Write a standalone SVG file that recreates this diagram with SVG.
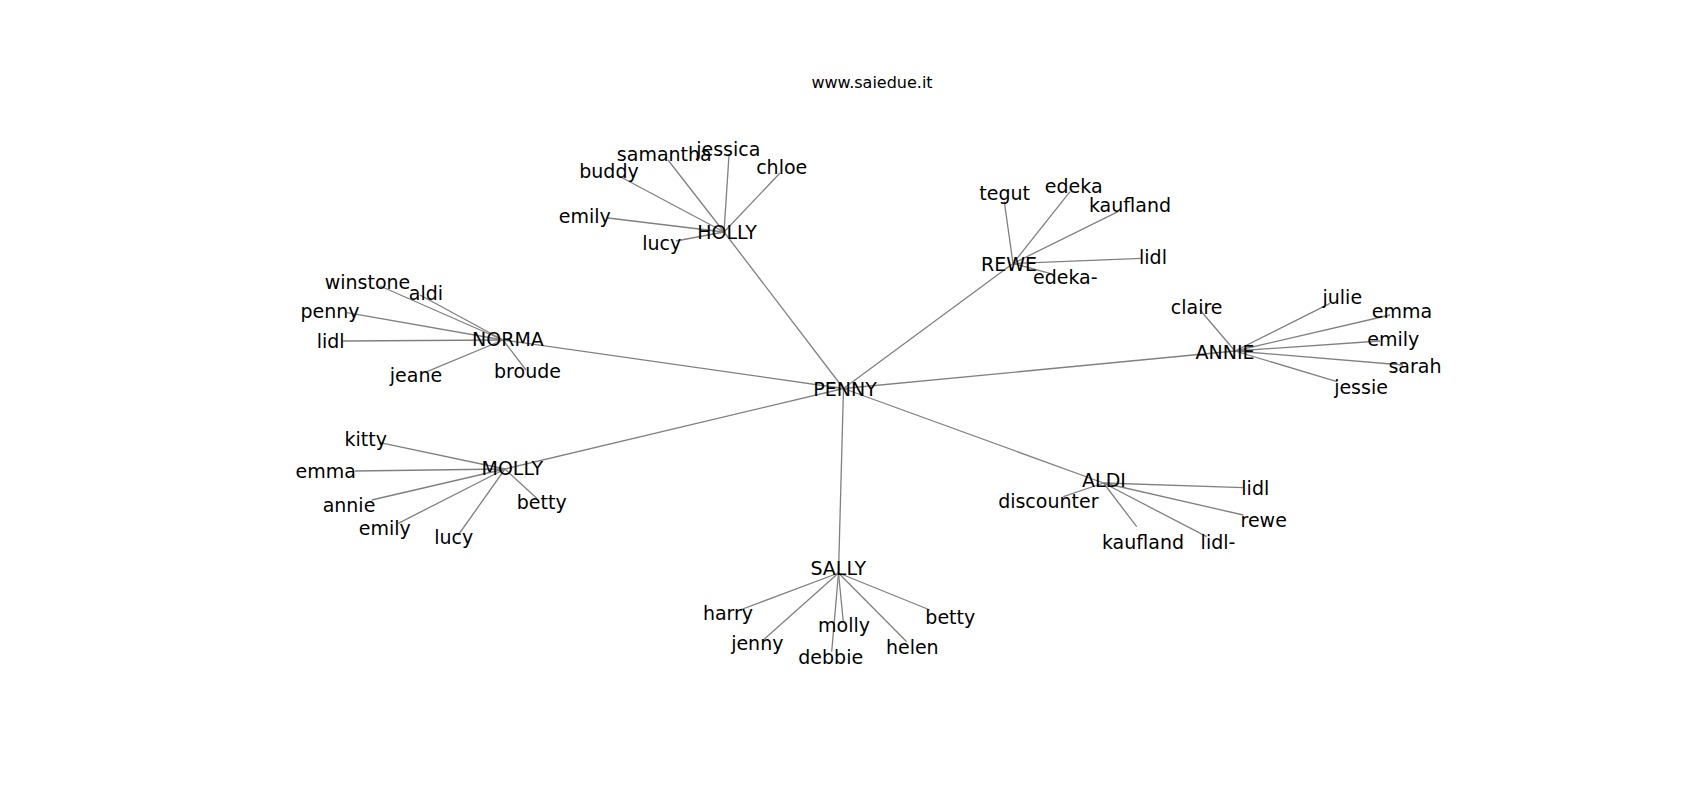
<svg xmlns="http://www.w3.org/2000/svg" width="1700" height="800" viewBox="0 0 1700 800">
<style>
  .bg { fill: #ffffff; }
  .e { stroke: #808080; stroke-width: 1.3; fill: none; }
  .lbl { font-family: "DejaVu Sans", "Liberation Sans", sans-serif; font-size: 19px; fill: #000000; text-anchor: middle; dominant-baseline: central; }
  .title { font-family: "DejaVu Sans", "Liberation Sans", sans-serif; font-size: 16px; fill: #000000; text-anchor: middle; }
</style>
<rect class="bg" x="0" y="0" width="1700" height="800"/>
<text class="title" x="872" y="88">www.saiedue.it</text>
<g id="connectors">
  <!-- hub edges -->
  <line class="e" x1="843.5" y1="388.5" x2="724" y2="232"/>
  <line class="e" x1="843.5" y1="388.5" x2="1013" y2="263.5"/>
  <line class="e" x1="843.5" y1="388.5" x2="503" y2="340"/>
  <line class="e" x1="843.5" y1="388.5" x2="1235" y2="351"/>
  <line class="e" x1="843.5" y1="388.5" x2="505" y2="469"/>
  <line class="e" x1="843.5" y1="388.5" x2="1103.5" y2="483"/>
  <line class="e" x1="843.5" y1="388.5" x2="838.5" y2="573"/>
  <!-- HOLLY -->
  <line class="e" x1="724" y1="232" x2="668" y2="160"/>
  <line class="e" x1="724" y1="232" x2="729" y2="155"/>
  <line class="e" x1="724" y1="232" x2="617" y2="175"/>
  <line class="e" x1="724" y1="232" x2="780" y2="173"/>
  <line class="e" x1="724" y1="232" x2="608" y2="218"/>
  <line class="e" x1="724" y1="232" x2="676" y2="241"/>
  <!-- REWE -->
  <line class="e" x1="1013" y1="263.5" x2="1004.3" y2="201.7"/>
  <line class="e" x1="1013" y1="263.5" x2="1070" y2="191.7"/>
  <line class="e" x1="1013" y1="263.5" x2="1118" y2="211.7"/>
  <line class="e" x1="1013" y1="263.5" x2="1142" y2="258.3"/>
  <line class="e" x1="1013" y1="263.5" x2="1050" y2="273.3"/>
  <!-- NORMA -->
  <line class="e" x1="503" y1="340" x2="380" y2="286"/>
  <line class="e" x1="503" y1="340" x2="420" y2="295"/>
  <line class="e" x1="503" y1="340" x2="347" y2="312.7"/>
  <line class="e" x1="503" y1="340" x2="343" y2="341"/>
  <line class="e" x1="503" y1="340" x2="427" y2="371.7"/>
  <line class="e" x1="503" y1="340" x2="526" y2="370"/>
  <!-- ANNIE -->
  <line class="e" x1="1235" y1="351" x2="1200" y2="310"/>
  <line class="e" x1="1235" y1="351" x2="1330" y2="303.3"/>
  <line class="e" x1="1235" y1="351" x2="1390" y2="315"/>
  <line class="e" x1="1235" y1="351" x2="1380" y2="341"/>
  <line class="e" x1="1235" y1="351" x2="1403" y2="365"/>
  <line class="e" x1="1235" y1="351" x2="1337" y2="381.7"/>
  <!-- MOLLY -->
  <line class="e" x1="505" y1="469" x2="380" y2="442.7"/>
  <line class="e" x1="505" y1="469" x2="355" y2="471"/>
  <line class="e" x1="505" y1="469" x2="371.7" y2="500"/>
  <line class="e" x1="505" y1="469" x2="398.3" y2="523.3"/>
  <line class="e" x1="505" y1="469" x2="458.3" y2="535"/>
  <line class="e" x1="505" y1="469" x2="536.7" y2="498.3"/>
  <!-- ALDI -->
  <line class="e" x1="1103.5" y1="483" x2="1063.3" y2="496.7"/>
  <line class="e" x1="1103.5" y1="483" x2="1243.3" y2="487.7"/>
  <line class="e" x1="1103.5" y1="483" x2="1243.3" y2="515"/>
  <line class="e" x1="1103.5" y1="483" x2="1136.7" y2="526.7"/>
  <line class="e" x1="1103.5" y1="483" x2="1206.7" y2="536.7"/>
  <!-- SALLY -->
  <line class="e" x1="838.5" y1="573" x2="740" y2="610"/>
  <line class="e" x1="838.5" y1="573" x2="763.3" y2="640"/>
  <line class="e" x1="838.5" y1="573" x2="843.3" y2="621.7"/>
  <line class="e" x1="838.5" y1="573" x2="831.7" y2="651.7"/>
  <line class="e" x1="838.5" y1="573" x2="906.7" y2="641.7"/>
  <line class="e" x1="838.5" y1="573" x2="930" y2="610"/>
</g>
<g id="PENNY"><text class="lbl" x="845" y="389.3">PENNY</text></g>
<g id="HOLLY"><text class="lbl" x="727" y="231.7">HOLLY</text></g>
<g id="REWE"><text class="lbl" x="1009" y="264">REWE</text></g>
<g id="NORMA"><text class="lbl" x="508" y="339">NORMA</text></g>
<g id="ANNIE"><text class="lbl" x="1225" y="351.7">ANNIE</text></g>
<g id="MOLLY"><text class="lbl" x="512.3" y="468.3">MOLLY</text></g>
<g id="ALDI"><text class="lbl" x="1104" y="480">ALDI</text></g>
<g id="SALLY"><text class="lbl" x="838.3" y="568.3">SALLY</text></g>
<g id="holly-samantha"><text class="lbl" x="664.3" y="154.3">samantha</text></g>
<g id="holly-jessica"><text class="lbl" x="728.3" y="149.3">jessica</text></g>
<g id="holly-buddy"><text class="lbl" x="609" y="170.7">buddy</text></g>
<g id="holly-chloe"><text class="lbl" x="781.7" y="167">chloe</text></g>
<g id="holly-emily"><text class="lbl" x="584.7" y="216">emily</text></g>
<g id="holly-lucy"><text class="lbl" x="661.7" y="243.3">lucy</text></g>
<g id="rewe-tegut"><text class="lbl" x="1004.7" y="193.3">tegut</text></g>
<g id="rewe-edeka"><text class="lbl" x="1073.7" y="186">edeka</text></g>
<g id="rewe-kaufland"><text class="lbl" x="1130" y="205">kaufland</text></g>
<g id="rewe-lidl"><text class="lbl" x="1153" y="257.3">lidl</text></g>
<g id="rewe-edeka-"><text class="lbl" x="1065.3" y="276.7">edeka-</text></g>
<g id="norma-winstone"><text class="lbl" x="367.5" y="281.7">winstone</text></g>
<g id="norma-aldi"><text class="lbl" x="426" y="293">aldi</text></g>
<g id="norma-penny"><text class="lbl" x="330" y="310.7">penny</text></g>
<g id="norma-lidl"><text class="lbl" x="330.7" y="340.7">lidl</text></g>
<g id="norma-jeane"><text class="lbl" x="416" y="375">jeane</text></g>
<g id="norma-broude"><text class="lbl" x="527.5" y="371">broude</text></g>
<g id="annie-claire"><text class="lbl" x="1196.7" y="307.3">claire</text></g>
<g id="annie-julie"><text class="lbl" x="1342.3" y="296.7">julie</text></g>
<g id="annie-emma"><text class="lbl" x="1402" y="310.7">emma</text></g>
<g id="annie-emily"><text class="lbl" x="1393.3" y="339.3">emily</text></g>
<g id="annie-sarah"><text class="lbl" x="1415" y="366">sarah</text></g>
<g id="annie-jessie"><text class="lbl" x="1361" y="386.7">jessie</text></g>
<g id="molly-kitty"><text class="lbl" x="365.7" y="439.3">kitty</text></g>
<g id="molly-emma"><text class="lbl" x="325.7" y="471">emma</text></g>
<g id="molly-annie"><text class="lbl" x="349" y="505">annie</text></g>
<g id="molly-emily"><text class="lbl" x="384.7" y="528.3">emily</text></g>
<g id="molly-lucy"><text class="lbl" x="453.7" y="536.7">lucy</text></g>
<g id="molly-betty"><text class="lbl" x="541.7" y="501.7">betty</text></g>
<g id="aldi-discounter"><text class="lbl" x="1048.3" y="501">discounter</text></g>
<g id="aldi-lidl"><text class="lbl" x="1255.3" y="487.7">lidl</text></g>
<g id="aldi-rewe"><text class="lbl" x="1263.7" y="520">rewe</text></g>
<g id="aldi-kaufland"><text class="lbl" x="1143" y="542.3">kaufland</text></g>
<g id="aldi-lidl-"><text class="lbl" x="1218" y="542.3">lidl-</text></g>
<g id="sally-harry"><text class="lbl" x="728" y="613.3">harry</text></g>
<g id="sally-jenny"><text class="lbl" x="757.3" y="643.3">jenny</text></g>
<g id="sally-molly"><text class="lbl" x="844" y="625">molly</text></g>
<g id="sally-debbie"><text class="lbl" x="830.7" y="656.7">debbie</text></g>
<g id="sally-helen"><text class="lbl" x="912.3" y="646.7">helen</text></g>
<g id="sally-betty"><text class="lbl" x="950.3" y="616.7">betty</text></g>
</svg>
